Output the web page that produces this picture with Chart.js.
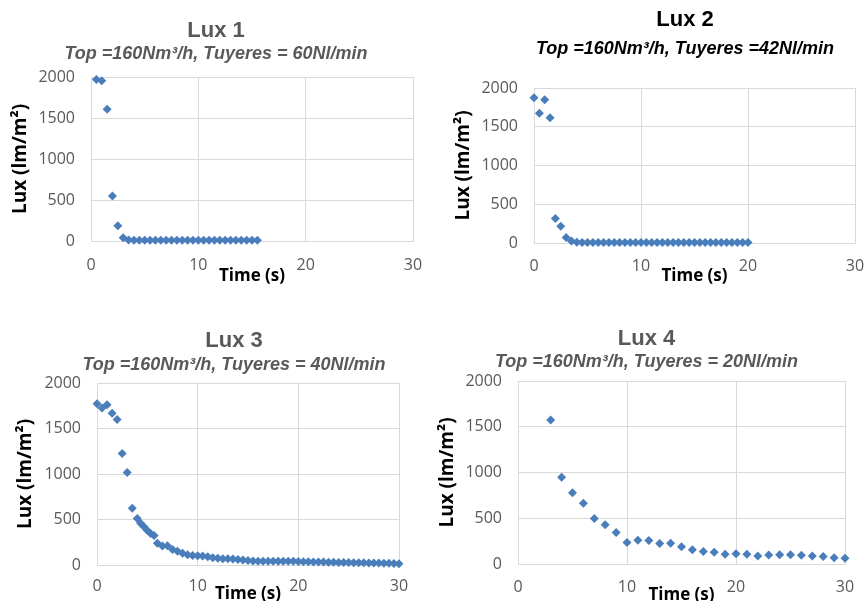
<!DOCTYPE html>
<html>
<head>
<meta charset="utf-8">
<script src="https://cdn.jsdelivr.net/npm/chart.js@4"></script>
<style>
  html, body { margin: 0; padding: 0; background: #fff; overflow: hidden; }
  #wrap { position: relative; width: 864px; height: 601px; overflow: hidden; background: #fff; }
  #wrap canvas { position: absolute; }
</style>
</head>
<body>
<div id="wrap">
  <canvas id="lux1"></canvas>
  <canvas id="lux3"></canvas>
  <canvas id="lux2"></canvas>
  <canvas id="lux4"></canvas>
</div>
<script>
// Lux 1 - Top =160Nm3/h, Tuyeres = 60Nl/min
const lux1Time = [0.5, 1, 1.5, 2, 2.5, 3, 3.5, 4, 4.5, 5, 5.5, 6, 6.5, 7, 7.5, 8, 8.5, 9, 9.5, 10,
  10.5, 11, 11.5, 12, 12.5, 13, 13.5, 14, 14.5, 15, 15.5];
const lux1Values = [1970, 1955, 1606, 549, 187, 40, 12, 8, 8, 8, 8, 8, 8, 8, 8, 8, 8, 8, 8, 8,
  8, 8, 8, 8, 8, 8, 8, 8, 8, 8, 8];

// Lux 2 - Tuyeres =42Nl/min
const lux2Time = [0, 0.5, 1, 1.5, 2, 2.5, 3, 3.5, 4, 4.5, 5, 5.5, 6, 6.5, 7, 7.5, 8, 8.5, 9, 9.5,
  10, 10.5, 11, 11.5, 12, 12.5, 13, 13.5, 14, 14.5, 15, 15.5, 16, 16.5, 17, 17.5, 18, 18.5, 19, 19.5, 20];
const lux2Values = [1875, 1675, 1848, 1615, 315, 215, 70, 25, 10, 8, 8, 8, 8, 8, 8, 8, 8, 8, 8, 8,
  8, 8, 8, 8, 8, 8, 8, 8, 8, 8, 8, 8, 8, 8, 8, 8, 8, 8, 8, 8, 8];

// Lux 3 - Tuyeres = 40Nl/min
const lux3Time = [0, 0.5, 1, 1.5, 2, 2.5, 3, 3.5, 4, 4.33, 4.67, 5, 5.33, 5.67, 6, 6.5, 7, 7.5, 8, 8.5,
  9, 9.5, 10, 10.5, 11, 11.5, 12, 12.5, 13, 13.5, 14, 14.5, 15, 15.5, 16, 16.5, 17, 17.5, 18, 18.5,
  19, 19.5, 20, 20.5, 21, 21.5, 22, 22.5, 23, 23.5, 24, 24.5, 25, 25.5, 26, 26.5, 27, 27.5, 28, 28.5,
  29, 29.5, 30];
const lux3Values = [1772, 1725, 1762, 1668, 1600, 1225, 1016, 625, 510, 460, 420, 378, 345, 325, 238, 210, 212, 170, 150, 130,
  112, 105, 102, 100, 90, 80, 74, 70, 68, 65, 60, 55, 50, 45, 42, 40, 40, 40, 42, 42,
  40, 40, 38, 36, 36, 34, 33, 32, 30, 30, 28, 28, 27, 26, 25, 24, 23, 22, 21, 20,
  18, 17, 15];

// Lux 4 - Tuyeres = 20Nl/min
const lux4Time = [3, 4, 5, 6, 7, 8, 9, 10, 11, 12, 13, 14, 15, 16, 17, 18, 19, 20, 21, 22,
  23, 24, 25, 26, 27, 28, 29, 30];
const lux4Values = [1575, 948, 780, 663, 498, 429, 345, 235, 260, 258, 224, 228, 188, 155, 136, 128, 106, 113, 106, 88,
  99, 101, 101, 95, 88, 82, 67, 63];

const timeTicks = [0, 10, 20, 30];
const luxTicks = [0, 500, 1000, 1500, 2000];

const markerColor = "#4a7ebb";
const gridColor = "#d9d9d9";
const tickColor = "#595959";

function buildChart(id, title, subtitle, times, values, cfg) {
  const canvas = document.getElementById(id);
  canvas.width = cfg.width;
  canvas.height = cfg.height;
  canvas.style.left = cfg.left + "px";
  canvas.style.top = cfg.top + "px";

  const points = times.map((t, i) => ({ x: t, y: values[i] }));

  return new Chart(canvas.getContext("2d"), {
    type: "scatter",
    data: {
      datasets: [{
        label: title,
        data: points,
        pointStyle: "rectRot",
        pointRadius: 4.5,
        pointBorderWidth: 0,
        backgroundColor: markerColor,
        borderColor: markerColor,
        clip: false
      }]
    },
    options: {
      responsive: false,
      animation: false,
      devicePixelRatio: 1,
      layout: { padding: { top: cfg.padTop, left: 0, right: 0, bottom: 0 } },
      plugins: {
        legend: { display: false },
        tooltip: { enabled: false },
        title: {
          display: true,
          text: title,
          color: cfg.titleColor,
          font: { family: "'Liberation Sans', Arial, sans-serif", size: 22, weight: "bold", lineHeight: 1 },
          padding: { top: 0, bottom: 0 }
        },
        subtitle: {
          display: true,
          text: subtitle,
          color: cfg.titleColor,
          font: { family: "'Liberation Sans', Arial, sans-serif", size: 18, weight: "bold", style: "italic", lineHeight: 1 },
          padding: { top: cfg.subTop, bottom: cfg.subBottom }
        }
      },
      scales: {
        x: {
          type: "linear",
          position: "bottom",
          min: 0,
          max: 30,
          afterBuildTicks: s => { s.ticks = timeTicks.map(v => ({ value: v })); },
          afterFit: s => {
            s.height = cfg.xHeight;
            // labels may hang over the plot edges, as in the original
            s.paddingLeft = 0;
            s.paddingRight = 0;
          },
          grid: { color: gridColor, drawTicks: false },
          border: { color: gridColor },
          ticks: {
            color: tickColor,
            padding: cfg.xTickPad,
            font: { family: "'Open Sans', sans-serif", size: 16 }
          },
          title: {
            display: true,
            text: "Time (s)",
            color: "#000",
            padding: { top: 0, bottom: cfg.xTitlePad },
            font: { family: "'Open Sans', sans-serif", size: 17, weight: "bold", lineHeight: 1.2 }
          }
        },
        y: {
          type: "linear",
          position: "left",
          min: 0,
          max: 2000,
          afterBuildTicks: s => { s.ticks = luxTicks.map(v => ({ value: v })); },
          afterFit: s => { s.width = cfg.yWidth; },
          grid: { color: gridColor, drawTicks: false },
          border: { color: gridColor },
          ticks: {
            color: tickColor,
            padding: 16,
            callback: v => String(v),
            font: { family: "'Open Sans', sans-serif", size: 16 }
          },
          title: {
            display: true,
            text: "Lux (lm/m²)",
            color: "#000",
            padding: { top: cfg.yTitlePad, bottom: 0 },
            font: { family: "'Open Sans', sans-serif", size: 19, weight: "bold", lineHeight: 1.2 }
          }
        },
        spacer: {
          type: "linear",
          axis: "y",
          position: "right",
          display: true,
          grid: { display: false },
          border: { display: false },
          ticks: { display: false },
          afterFit: s => { s.width = cfg.spacer; }
        }
      }
    }
  });
}

buildChart("lux1", "Lux 1", "Top =160Nm³/h, Tuyeres = 60Nl/min", lux1Time, lux1Values, {
  left: 0, top: 0, width: 432, height: 300,
  padTop: 20, subTop: 3, subBottom: 14,
  yWidth: 91, xHeight: 59, spacer: 19,
  xTickPad: 15, xTitlePad: 14, yTitlePad: 9,
  titleColor: "#595959"
});

buildChart("lux2", "Lux 2", "Top =160Nm³/h, Tuyeres =42Nl/min", lux2Time, lux2Values, {
  left: 432, top: 0, width: 506, height: 300,
  padTop: 9, subTop: 9, subBottom: 30,
  yWidth: 102, xHeight: 57, spacer: 83,
  xTickPad: 14, xTitlePad: 14, yTitlePad: 20,
  titleColor: "#000"
});

buildChart("lux3", "Lux 3", "Top =160Nm³/h, Tuyeres = 40Nl/min", lux3Time, lux3Values, {
  left: 0, top: 300, width: 468, height: 305,
  padTop: 30, subTop: 4, subBottom: 9,
  yWidth: 97, xHeight: 40, spacer: 69,
  xTickPad: 12, xTitlePad: 1, yTitlePad: 14,
  titleColor: "#595959"
});

buildChart("lux4", "Lux 4", "Top =160Nm³/h, Tuyeres = 20Nl/min", lux4Time, lux4Values, {
  left: 432, top: 300, width: 429, height: 305,
  padTop: 28, subTop: 3, subBottom: 10,
  yWidth: 86, xHeight: 41, spacer: 16,
  xTickPad: 14, xTitlePad: 0, yTitlePad: 4,
  titleColor: "#595959"
});
</script>
</body>
</html>
